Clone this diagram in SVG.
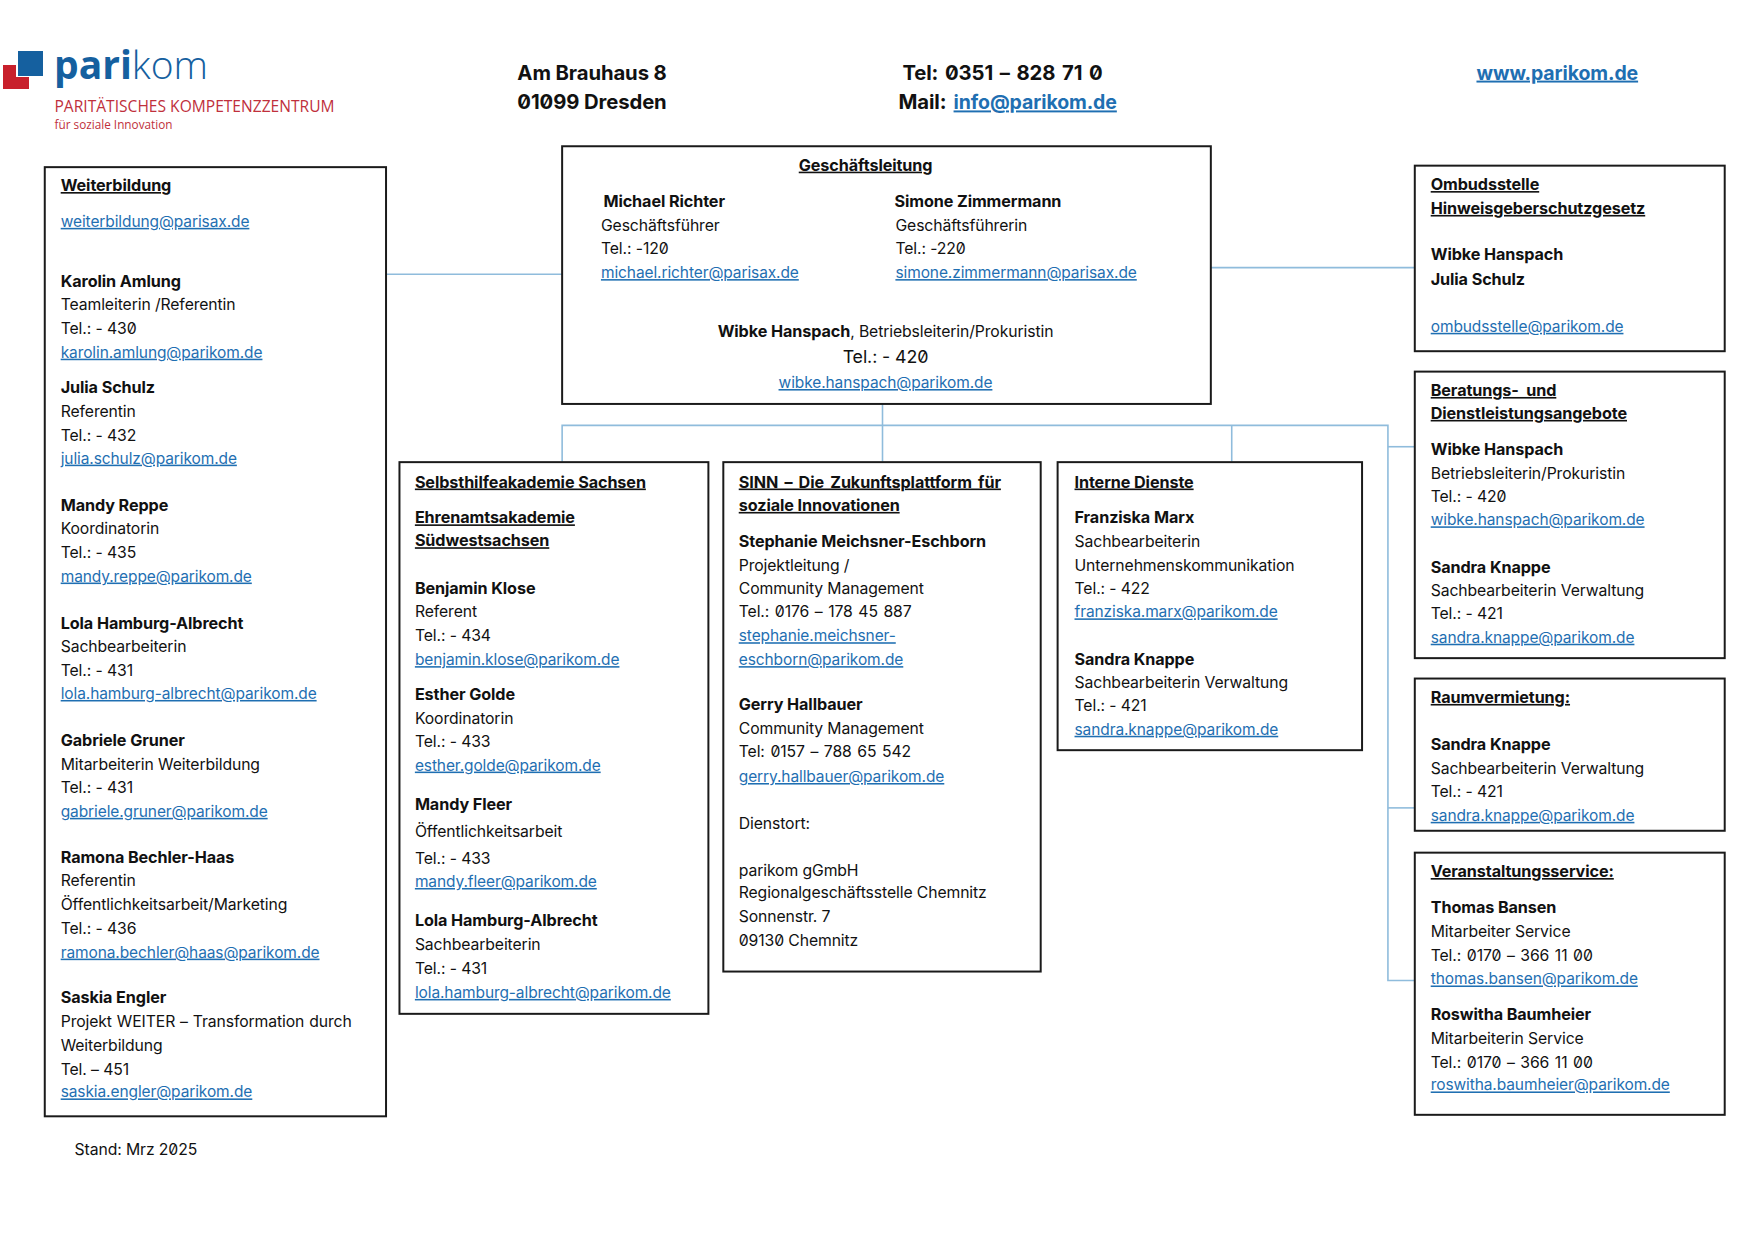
<svg xmlns="http://www.w3.org/2000/svg" width="1755" height="1241" viewBox="0 0 1755 1241">
<style>
text{font-family:Inter,"Liberation Sans",sans-serif;font-size:15.83px;fill:#111;font-feature-settings:"zero";letter-spacing:-.1px}
.b{font-weight:700;font-size:16.28px}
.h{font-weight:700;font-size:16.28px;text-decoration:underline}
.l{fill:#1f6fb2;font-size:15.58px;text-decoration:underline}
.t{font-size:20.4px;font-weight:700}
.tl{fill:#1f6fb2;font-size:19.6px;font-weight:700;text-decoration:underline}
.m{text-anchor:middle}
.w{word-spacing:1.3px}
.box{fill:#fff;stroke:#1a1a1a;stroke-width:2}
.c{fill:none;stroke:#8fbcdc;stroke-width:1.6}
</style>
<rect width="1755" height="1241" fill="#fff"/>
<g id="logo">
<rect x="3" y="65" width="26" height="24" fill="#c8202c"/>
<rect x="16" y="49" width="27" height="28" fill="#fff"/>
<rect x="18" y="51" width="25" height="25" fill="#15609f"/>
<text x="54" y="79" style="font-family:'Open Sans',sans-serif;font-size:39px;font-weight:700;fill:#15609f;letter-spacing:0">pari<tspan style="font-weight:300">kom</tspan></text>
<text x="54.500" y="112" textLength="280" lengthAdjust="spacingAndGlyphs" style="font-family:'Open Sans',sans-serif;font-size:17px;fill:#c0303c;letter-spacing:0">PARITÄTISCHES KOMPETENZZENTRUM</text>
<text x="54.500" y="129" textLength="118" lengthAdjust="spacingAndGlyphs" style="font-family:'Open Sans',sans-serif;font-size:12.5px;fill:#c0303c;letter-spacing:0">für soziale Innovation</text>
</g>
<g id="page" transform="scale(.99493)">
<g id="header">
<text class="t" x="520" y="80">Am Brauhaus 8</text>
<text class="t" x="520" y="110">01099 Dresden</text>
<text class="t" x="907" y="80" style="word-spacing:2px">Tel: 0351 – 828 71 0</text>
<text class="t" x="903" y="110">Mail: <tspan class="tl" dx="2.500">info@parikom.de</tspan></text>
<text class="tl" x="1484" y="80">www.parikom.de</text>
</g>
<g id="connectors">
<path class="c" d="M388 275.600H565"/>
<path class="c" d="M1217 269H1422"/>
<path class="c" d="M887 406V464"/>
<path class="c" d="M565 464V427.500H1395V985.500H1422"/>
<path class="c" d="M1238 427.500V464"/>
<path class="c" d="M1395 449H1422"/>
<path class="c" d="M1395 812H1422"/>
</g>
<g id="geschaeftsleitung">
<rect class="box" x="565" y="147" width="652" height="259"/>
<text class="h m" x="870" y="171.500">Geschäftsleitung</text>
<text class="b" x="606.500" y="208.500">Michael Richter</text>
<text x="604" y="232">Geschäftsführer</text>
<text x="604" y="255.500">Tel.: -120</text>
<text class="l" x="604" y="279.500">michael.richter@parisax.de</text>
<text class="b" x="899" y="208.500">Simone Zimmermann</text>
<text x="900" y="232">Geschäftsführerin</text>
<text x="900" y="255.500">Tel.: -220</text>
<text class="l" x="900" y="279.500">simone.zimmermann@parisax.de</text>
<text class="m" x="890" y="338.500"><tspan class="b">Wibke Hanspach</tspan>, Betriebsleiterin/Prokuristin</text>
<text class="m" x="890" y="364.500" style="font-size:17.900px">Tel.: - 420</text>
<text class="l m" x="890" y="390">wibke.hanspach@parikom.de</text>
</g>
<g id="weiterbildung">
<rect class="box" x="45" y="168" width="343" height="954"/>
<text class="h" x="61" y="192">Weiterbildung</text>
<text class="l" x="61" y="228">weiterbildung@parisax.de</text>
<text class="b" x="61" y="288.500">Karolin Amlung</text>
<text x="61" y="312">Teamleiterin /Referentin</text>
<text x="61" y="336">Tel.: - 430</text>
<text class="l" x="61" y="359.500">karolin.amlung@parikom.de</text>
<text class="b" x="61" y="395">Julia Schulz</text>
<text x="61" y="419">Referentin</text>
<text x="61" y="443">Tel.: - 432</text>
<text class="l" x="61" y="466">julia.schulz@parikom.de</text>
<text class="b" x="61" y="513.500">Mandy Reppe</text>
<text x="61" y="537">Koordinatorin</text>
<text x="61" y="561">Tel.: - 435</text>
<text class="l" x="61" y="584.500">mandy.reppe@parikom.de</text>
<text class="b" x="61" y="632">Lola Hamburg-Albrecht</text>
<text x="61" y="655">Sachbearbeiterin</text>
<text x="61" y="679">Tel.: - 431</text>
<text class="l" x="61" y="702.500">lola.hamburg-albrecht@parikom.de</text>
<text class="b" x="61" y="750">Gabriele Gruner</text>
<text x="61" y="773.500">Mitarbeiterin Weiterbildung</text>
<text x="61" y="797">Tel.: - 431</text>
<text class="l" x="61" y="821">gabriele.gruner@parikom.de</text>
<text class="b" x="61" y="867">Ramona Bechler-Haas</text>
<text x="61" y="891">Referentin</text>
<text x="61" y="915">Öffentlichkeitsarbeit/Marketing</text>
<text x="61" y="939">Tel.: - 436</text>
<text class="l" x="61" y="962.500">ramona.bechler@haas@parikom.de</text>
<text class="b" x="61" y="1008">Saskia Engler</text>
<text x="61" y="1032" style="word-spacing:.6px">Projekt WEITER – Transformation durch</text>
<text x="61" y="1056">Weiterbildung</text>
<text x="61" y="1080">Tel. – 451</text>
<text class="l" x="61" y="1103">saskia.engler@parikom.de</text>
</g>
<g id="selbsthilfeakademie">
<rect class="box" x="401.500" y="464.500" width="310.500" height="554.500"/>
<text class="h" x="417" y="490">Selbsthilfeakademie Sachsen</text>
<text class="h" x="417" y="526">Ehrenamtsakademie</text>
<text class="h" x="417" y="549">Südwestsachsen</text>
<text class="b" x="417" y="597">Benjamin Klose</text>
<text x="417" y="620.500">Referent</text>
<text x="417" y="644.500">Tel.: - 434</text>
<text class="l" x="417" y="668.500">benjamin.klose@parikom.de</text>
<text class="b" x="417" y="703.500">Esther Golde</text>
<text x="417" y="727.500">Koordinatorin</text>
<text x="417" y="751">Tel.: - 433</text>
<text class="l" x="417" y="774.500">esther.golde@parikom.de</text>
<text class="b" x="417" y="814">Mandy Fleer</text>
<text x="417" y="841">Öffentlichkeitsarbeit</text>
<text x="417" y="868">Tel.: - 433</text>
<text class="l" x="417" y="891.500">mandy.fleer@parikom.de</text>
<text class="b" x="417" y="931">Lola Hamburg-Albrecht</text>
<text x="417" y="955">Sachbearbeiterin</text>
<text x="417" y="979">Tel.: - 431</text>
<text class="l" x="417" y="1003">lola.hamburg-albrecht@parikom.de</text>
</g>
<g id="sinn">
<rect class="box" x="727" y="464.500" width="319" height="512"/>
<text class="h" x="742.500" y="490" style="word-spacing:2.500px">SINN – Die Zukunftsplattform für</text>
<text class="h" x="742.500" y="513.500">soziale Innovationen</text>
<text class="b" x="742.500" y="549.500">Stephanie Meichsner-Eschborn</text>
<text x="742.500" y="573.500">Projektleitung /</text>
<text x="742.500" y="597">Community Management</text>
<text class="w" x="742.500" y="620.500">Tel.: 0176 – 178 45 887</text>
<text class="l" x="742.500" y="644.500">stephanie.meichsner-</text>
<text class="l" x="742.500" y="668.500">eschborn@parikom.de</text>
<text class="b" x="742.500" y="714">Gerry Hallbauer</text>
<text x="742.500" y="737.500">Community Management</text>
<text class="w" x="742.500" y="761">Tel: 0157 – 788 65 542</text>
<text class="l" x="742.500" y="786">gerry.hallbauer@parikom.de</text>
<text x="742.500" y="833">Dienstort:</text>
<text x="742.500" y="880">parikom gGmbH</text>
<text x="742.500" y="903">Regionalgeschäftsstelle Chemnitz</text>
<text x="742.500" y="927">Sonnenstr. 7</text>
<text x="742.500" y="951">09130 Chemnitz</text>
</g>
<g id="interne-dienste">
<rect class="box" x="1063" y="464.500" width="306" height="289.500"/>
<text class="h" x="1080" y="490">Interne Dienste</text>
<text class="b" x="1080" y="526">Franziska Marx</text>
<text x="1080" y="549.500">Sachbearbeiterin</text>
<text x="1080" y="573.500">Unternehmenskommunikation</text>
<text x="1080" y="597">Tel.: - 422</text>
<text class="l" x="1080" y="620.500">franziska.marx@parikom.de</text>
<text class="b" x="1080" y="668">Sandra Knappe</text>
<text x="1080" y="691.500">Sachbearbeiterin Verwaltung</text>
<text x="1080" y="715">Tel.: - 421</text>
<text class="l" x="1080" y="738.500">sandra.knappe@parikom.de</text>
</g>
<g id="ombudsstelle">
<rect class="box" x="1422" y="166.500" width="311.500" height="186.500"/>
<text class="h" x="1438" y="191">Ombudsstelle</text>
<text class="h" x="1438" y="215">Hinweisgeberschutzgesetz</text>
<text class="b" x="1438" y="261.500">Wibke Hanspach</text>
<text class="b" x="1438" y="286">Julia Schulz</text>
<text class="l" x="1438" y="333.500">ombudsstelle@parikom.de</text>
</g>
<g id="beratung">
<rect class="box" x="1422" y="373.500" width="311.500" height="288"/>
<text class="h" x="1438" y="398" xml:space="preserve">Beratungs-  und</text>
<text class="h" x="1438" y="421">Dienstleistungsangebote</text>
<text class="b" x="1438" y="457.500">Wibke Hanspach</text>
<text x="1438" y="481">Betriebsleiterin/Prokuristin</text>
<text x="1438" y="504.500">Tel.: - 420</text>
<text class="l" x="1438" y="528">wibke.hanspach@parikom.de</text>
<text class="b" x="1438" y="575.500">Sandra Knappe</text>
<text x="1438" y="599">Sachbearbeiterin Verwaltung</text>
<text x="1438" y="622.500">Tel.: - 421</text>
<text class="l" x="1438" y="646">sandra.knappe@parikom.de</text>
</g>
<g id="raumvermietung">
<rect class="box" x="1422" y="682" width="311.500" height="153"/>
<text class="h" x="1438" y="706.500">Raumvermietung:</text>
<text class="b" x="1438" y="754">Sandra Knappe</text>
<text x="1438" y="778">Sachbearbeiterin Verwaltung</text>
<text x="1438" y="801">Tel.: - 421</text>
<text class="l" x="1438" y="825">sandra.knappe@parikom.de</text>
</g>
<g id="veranstaltungsservice">
<rect class="box" x="1422" y="857" width="311.500" height="263.500"/>
<text class="h" x="1438" y="881.500">Veranstaltungsservice:</text>
<text class="b" x="1438" y="918">Thomas Bansen</text>
<text x="1438" y="942">Mitarbeiter Service</text>
<text class="w" x="1438" y="966">Tel.: 0170 – 366 11 00</text>
<text class="l" x="1438" y="989.500">thomas.bansen@parikom.de</text>
<text class="b" x="1438" y="1025">Roswitha Baumheier</text>
<text x="1438" y="1049">Mitarbeiterin Service</text>
<text class="w" x="1438" y="1073">Tel.: 0170 – 366 11 00</text>
<text class="l" x="1438" y="1096">roswitha.baumheier@parikom.de</text>
</g>
<text id="stand" x="75" y="1161">Stand: Mrz 2025</text>
</g>
</svg>
